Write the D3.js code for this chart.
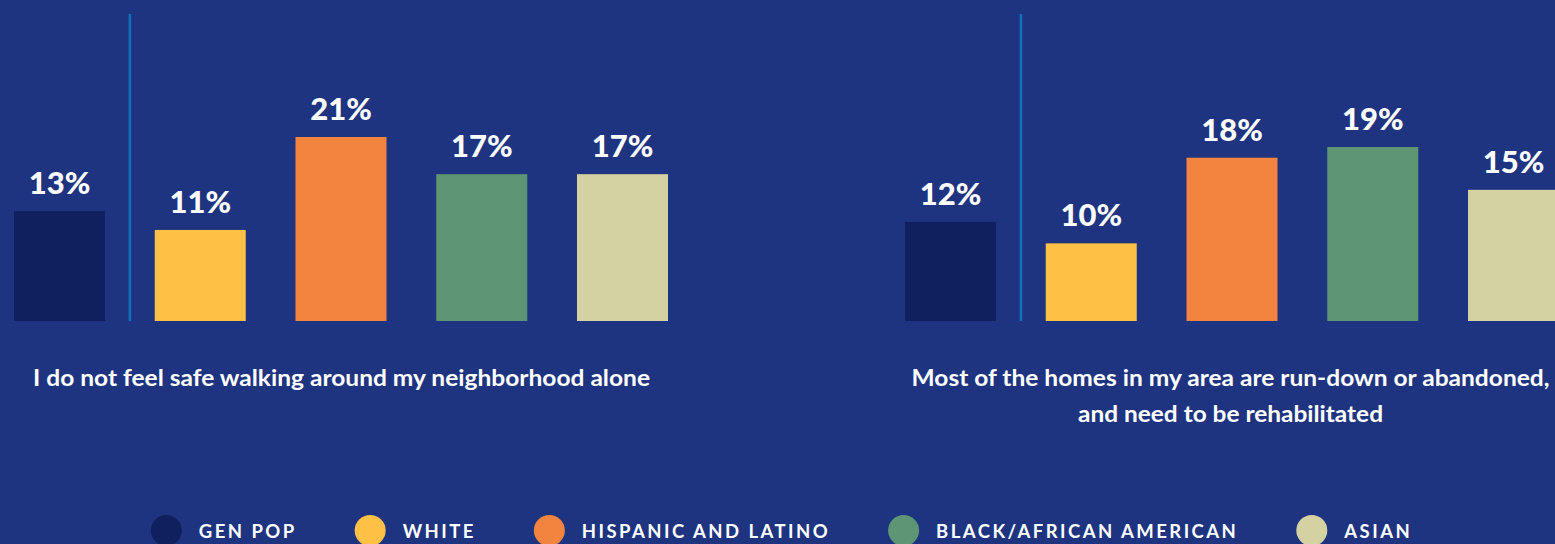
<!DOCTYPE html>
<html>
<head>
<meta charset="utf-8">
<script src="https://cdn.jsdelivr.net/npm/d3@7"></script>
<style>
  html, body { margin: 0; padding: 0; background: #1f3480; overflow: hidden; }
  svg { display: block; }
  text { font-family: Lato, "Open Sans", sans-serif; fill: #ffffff; font-weight: 700; }
</style>
</head>
<body>
<svg id="chart" width="1555" height="544"></svg>
<script>
// ---- data ----
const categories = ["GEN POP", "WHITE", "HISPANIC AND LATINO", "BLACK/AFRICAN AMERICAN", "ASIAN"];
const colors = ["#10205e", "#ffc145", "#f3843f", "#5e9574", "#d4d2a3"];
const chartTitles = [
  ["I do not feel safe walking around my neighborhood alone"],
  ["Most of the homes in my area are run-down or abandoned,", "and need to be rehabilitated"]
];
const unsafeWalking = [13, 11, 21, 17, 17];
const homesRunDown = [12, 10, 18, 19, 15];
const seriesList = [unsafeWalking, homesRunDown];
// each panel's own value axis (auto-scaled, not starting at zero)
const axisMins = [1.2, 2.75];

// ---- layout ----
const W = 1555, H = 544;
const baseY = 321;
const panelX = [14, 905];
const step = 140.75, barW = 91;
const titleWidths = [[617], [638, 305]];
const svg = d3.select("#chart");
svg.append("rect").attr("width", W).attr("height", H).attr("fill", "#1f3480");

seriesList.forEach((vals, p) => {
  const x0 = panelX[p];
  const x = d3.scaleBand()
    .domain(categories)
    .range([x0, x0 + step * 4 + barW])
    .paddingInner((step - barW) / step)
    .paddingOuter(0);
  const maxV = d3.max(vals);
  const topPx = p === 0 ? 137 : 147;
  const y = d3.scaleLinear().domain([axisMins[p], maxV]).range([baseY, topPx]);

  const g = svg.append("g");
  g.selectAll("rect.bar").data(vals).join("rect")
    .attr("class", "bar")
    .attr("x", (d, i) => x(categories[i]))
    .attr("y", d => y(d))
    .attr("width", x.bandwidth())
    .attr("height", d => baseY - y(d))
    .attr("fill", (d, i) => colors[i]);

  g.selectAll("text.val").data(vals).join("text")
    .attr("class", "val")
    .attr("x", (d, i) => x(categories[i]) + x.bandwidth() / 2)
    .attr("y", d => y(d) - 17)
    .attr("text-anchor", "middle")
    .style("font-size", "31px")
    .style("font-weight", 900)
    .text(d => d + "%");

  // separator between Gen Pop and the groups
  const sepX = (x(categories[0]) + x.bandwidth() + x(categories[1])) / 2;
  g.append("line")
    .attr("x1", sepX).attr("x2", sepX)
    .attr("y1", 14).attr("y2", baseY)
    .attr("stroke", "#1471b8").attr("stroke-width", 2.5);

  // title
  const cx = p === 0 ? 341.5 : 1230.5;
  chartTitles[p].forEach((line, li) => {
    g.append("text")
      .attr("x", cx)
      .attr("y", 385.5 + li * 36)
      .attr("text-anchor", "middle")
      .attr("textLength", titleWidths[p][li])
      .attr("lengthAdjust", "spacingAndGlyphs")
      .style("font-size", "23px")
      .text(line);
  });
});

// ---- legend ----
const leg = svg.append("g");
const r = 15.5;
let cursor = 0;
categories.forEach((c, i) => {
  const it = leg.append("g");
  it.append("circle").attr("cx", cursor + r).attr("cy", 530.5).attr("r", r).attr("fill", colors[i]);
  const t = it.append("text")
    .attr("x", cursor + 48)
    .attr("y", 538)
    .style("font-size", "18.5px")
    .style("letter-spacing", "2.45px")
    .text(c);
  const w = t.node().getComputedTextLength();
  cursor = cursor + 48 + w + 58;
});
const legW = cursor - 58;
leg.attr("transform", `translate(${781.5 - legW / 2},0)`);
</script>
</body>
</html>
